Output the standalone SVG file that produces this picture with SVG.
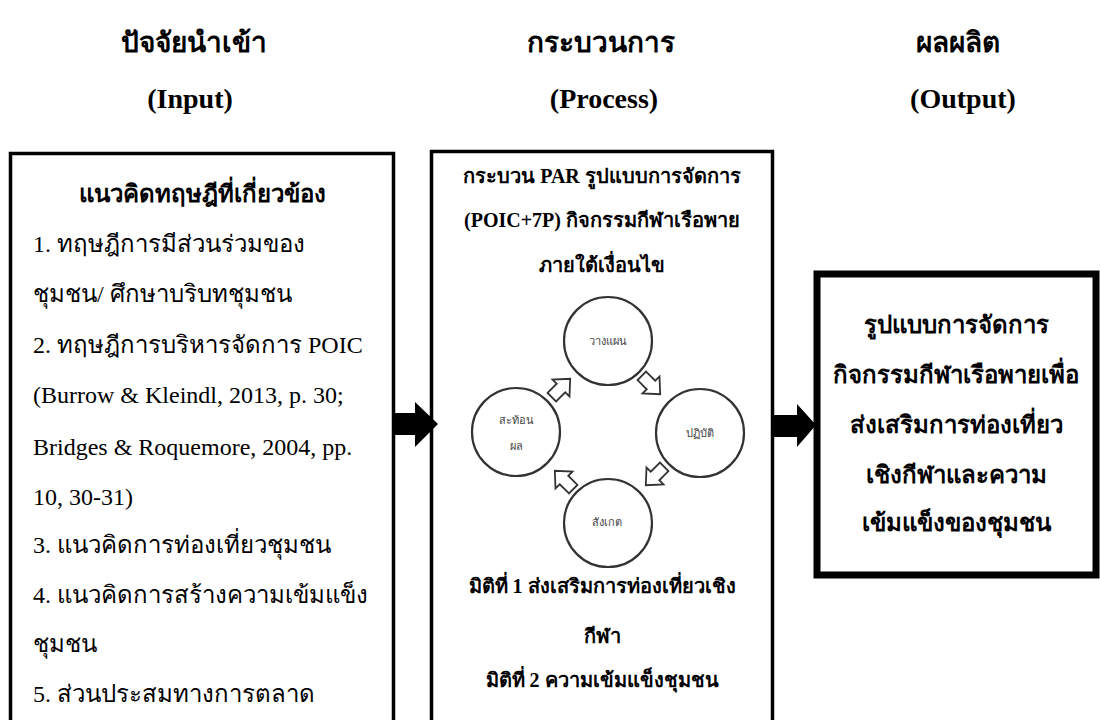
<svg xmlns="http://www.w3.org/2000/svg" width="1100" height="720" viewBox="0 0 1100 720">
<defs>
<style>
.t{font-family:"Liberation Serif","DejaVu Serif",serif;fill:#000}
.h{font-size:28px;font-weight:bold;text-anchor:middle}
.b{font-size:24px;font-weight:bold;text-anchor:middle}
.m{font-size:20px;font-weight:bold;text-anchor:middle}
.r{font-size:24px}
.c{font-family:"DejaVu Sans",sans-serif;font-size:11px;fill:#444;text-anchor:middle}
.box{fill:#fff;stroke:#000;stroke-width:3.5}
.obox{fill:#fff;stroke:#000;stroke-width:7}
.circ{fill:#fff;stroke:#333;stroke-width:2.2}
.harrow{fill:#fff;stroke:#333;stroke-width:1.8;stroke-linejoin:miter}
.conn{fill:#000;stroke:none}
</style>
<path id="ha" d="M-13,-6 L0,-6 L0,-12 L13,0 L0,12 L0,6 L-13,6 Z"/>
</defs>
<rect width="1100" height="720" fill="#fff"/>

<g id="headers">
<text class="t h" x="194" y="52">ปัจจัยนำเข้า</text>
<text class="t h" x="190" y="108">(Input)</text>
<text class="t h" x="601" y="52">กระบวนการ</text>
<text class="t h" x="604" y="108">(Process)</text>
<text class="t h" x="958" y="52">ผลผลิต</text>
<text class="t h" x="963" y="108">(Output)</text>
</g>

<g id="input">
<rect class="box" x="10.5" y="153.5" width="383" height="600"/>
<text class="t b" x="202" y="202">แนวคิดทฤษฎีที่เกี่ยวข้อง</text>
<text class="t r" x="33" y="252">1. ทฤษฎีการมีส่วนร่วมของ</text>
<text class="t r" x="33" y="302">ชุมชน/ ศึกษาบริบทชุมชน</text>
<text class="t r" x="33" y="353">2. ทฤษฎีการบริหารจัดการ POIC</text>
<text class="t r" x="33" y="403">(Burrow &amp; Kleindl, 2013, p. 30;</text>
<text class="t r" x="33" y="455">Bridges &amp; Roquemore, 2004, pp.</text>
<text class="t r" x="33" y="505">10, 30-31)</text>
<text class="t r" x="33" y="553">3. แนวคิดการท่องเที่ยวชุมชน</text>
<text class="t r" x="33" y="603">4. แนวคิดการสร้างความเข้มแข็ง</text>
<text class="t r" x="33" y="652">ชุมชน</text>
<text class="t r" x="33" y="702">5. ส่วนประสมทางการตลาด</text>
</g>

<g id="process">
<rect class="box" x="431.5" y="151.5" width="341" height="600"/>
<text class="t m" x="602" y="183">กระบวน PAR รูปแบบการจัดการ</text>
<text class="t m" x="602" y="227">(POIC+7P) กิจกรรมกีฬาเรือพาย</text>
<text class="t m" x="602" y="272">ภายใต้เงื่อนไข</text>
<g id="cycle">
<circle class="circ" cx="608" cy="341" r="44"/>
<circle class="circ" cx="700" cy="433" r="44"/>
<circle class="circ" cx="608" cy="523" r="44"/>
<circle class="circ" cx="516" cy="432" r="44"/>
<text class="c" x="608" y="345">วางแผน</text>
<text class="c" x="700" y="437">ปฏิบัติ</text>
<text class="c" x="607" y="526">สังเกต</text>
<text class="c" x="516" y="424">สะท้อน</text>
<text class="c" x="516" y="450">ผล</text>
<use href="#ha" class="harrow" transform="translate(651,385) rotate(45)"/>
<use href="#ha" class="harrow" transform="translate(655,476) rotate(135)"/>
<use href="#ha" class="harrow" transform="translate(564,480) rotate(-135)"/>
<use href="#ha" class="harrow" transform="translate(561,388) rotate(-45)"/>
</g>
<text class="t m" x="602" y="593">มิติที่ 1 ส่งเสริมการท่องเที่ยวเชิง</text>
<text class="t m" x="602" y="643">กีฬา</text>
<text class="t m" x="602" y="687">มิติที่ 2  ความเข้มแข็งชุมชน</text>
</g>

<g id="output">
<rect class="obox" x="817" y="274" width="279" height="301"/>
<text class="t b" x="956" y="333">รูปแบบการจัดการ</text>
<text class="t b" x="956" y="383">กิจกรรมกีฬาเรือพายเพื่อ</text>
<text class="t b" x="956" y="433">ส่งเสริมการท่องเที่ยว</text>
<text class="t b" x="956" y="483">เชิงกีฬาและความ</text>
<text class="t b" x="956" y="531">เข้มแข็งของชุมชน</text>
</g>

<g id="connectors">
<polygon class="conn" points="393,413 415,413 415,402 438,424 415,447 415,435 393,435"/>
<polygon class="conn" points="774,415 797,415 797,404 816,425 797,447 797,437 774,437"/>
</g>
</svg>
